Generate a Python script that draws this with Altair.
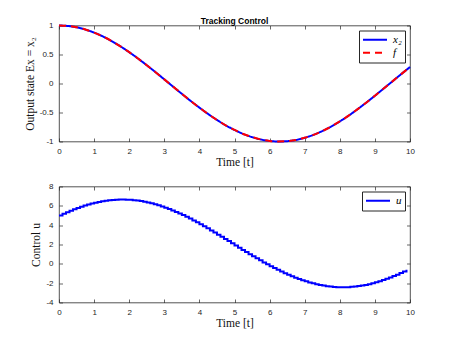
import altair as alt
import pandas as pd

# ---- data ----
t_top = [i * 0.25 for i in range(41)]
x2_vals = [1.000, 0.992, 0.969, 0.930, 0.878, 0.811, 0.732, 0.641, 0.540, 0.431,
           0.315, 0.195, 0.071, -0.054, -0.178, -0.300, -0.416, -0.526, -0.628, -0.721,
           -0.801, -0.870, -0.924, -0.965, -0.990, -1.000, -0.994, -0.973, -0.936, -0.885,
           -0.820, -0.743, -0.654, -0.555, -0.446, -0.331, -0.211, -0.087, 0.037, 0.162, 0.284]
f_vals = [1.000, 0.992, 0.969, 0.930, 0.878, 0.811, 0.732, 0.641, 0.540, 0.431,
          0.315, 0.195, 0.071, -0.054, -0.178, -0.300, -0.416, -0.526, -0.628, -0.721,
          -0.801, -0.870, -0.924, -0.965, -0.990, -1.000, -0.994, -0.973, -0.936, -0.885,
          -0.820, -0.743, -0.654, -0.555, -0.446, -0.331, -0.211, -0.087, 0.037, 0.162, 0.284]

t_u = [i / 10 for i in range(100)]
u_vals = [5.00, 5.17, 5.34, 5.49, 5.64, 5.78, 5.91, 6.03, 6.14, 6.24,
          6.33, 6.40, 6.47, 6.53, 6.58, 6.61, 6.64, 6.65, 6.65, 6.64,
          6.62, 6.59, 6.54, 6.49, 6.42, 6.35, 6.26, 6.16, 6.05, 5.94,
          5.81, 5.67, 5.53, 5.37, 5.21, 5.04, 4.87, 4.68, 4.49, 4.30,
          4.09, 3.89, 3.68, 3.46, 3.24, 3.02, 2.80, 2.58, 2.35, 2.12,
          1.90, 1.67, 1.44, 1.22, 1.00, 0.78, 0.57, 0.36, 0.15, -0.05,
          -0.25, -0.44, -0.62, -0.80, -0.97, -1.13, -1.29, -1.43, -1.57, -1.70,
          -1.81, -1.92, -2.02, -2.11, -2.19, -2.25, -2.31, -2.35, -2.39, -2.41,
          -2.42, -2.42, -2.41, -2.38, -2.35, -2.30, -2.25, -2.18, -2.10, -2.01,
          -1.91, -1.80, -1.68, -1.55, -1.42, -1.27, -1.12, -0.96, -0.79, -0.61]

x_ticks = [0, 1, 2, 3, 4, 5, 6, 7, 8, 9, 10]
y_ticks_top = [-1, -0.5, 0, 0.5, 1]
y_ticks_bot = [-4, -2, 0, 2, 4, 6, 8]
series_top = ["x₂", "f"]
series_bot = ["u"]

top_df = pd.DataFrame({
    "t": t_top + t_top,
    "v": x2_vals + f_vals,
    "s": [series_top[0]] * len(t_top) + [series_top[1]] * len(t_top),
})
bot_df = pd.DataFrame({"t": t_u, "v": u_vals, "s": [series_bot[0]] * len(t_u)})

AX = "#262626"
TICK = 3.5


def main_axis(orient, values, title, pad=6, tpad=4):
    return alt.Axis(orient=orient, values=values, title=title, offset=-TICK, tickSize=TICK,
                    tickColor=AX, tickWidth=0.7, domain=False, grid=False,
                    labelPadding=pad, labelExpr="datum.value + ''", labelFlush=False,
                    labelOverlap=False, labelFont="Liberation Sans", labelFontSize=8,
                    labelColor=AX, titleFont="Liberation Serif", titleFontSize=11.5,
                    titleFontWeight="normal", titleColor="#111111", titlePadding=tpad)


def tick_axis(orient, values):
    return alt.Axis(orient=orient, values=values, title=None, offset=-TICK, tickSize=TICK,
                    tickColor=AX, tickWidth=0.7, domain=False, grid=False, labels=False)


def legend():
    return alt.Legend(orient="top-right", offset=5, title=None, symbolType="stroke",
                      symbolSize=576, symbolStrokeWidth=2, labelFont="Liberation Serif",
                      labelFontStyle="italic", labelFontSize=11, labelColor="black",
                      strokeColor=AX, fillColor="white", padding=3, rowPadding=0,
                      clipHeight=12.5, labelOffset=5)


xs = alt.Scale(domain=[0, 10], nice=False, zero=False)
ys_top = alt.Scale(domain=[-1, 1], nice=False, zero=False)
ys_bot = alt.Scale(domain=[-4, 8], nice=False, zero=False)

color_top = alt.Color("s:N", scale=alt.Scale(domain=series_top, range=["#0000ff", "#ff0000"]),
                      legend=legend())
dash_top = alt.StrokeDash("s:N", scale=alt.Scale(domain=series_top, range=[[1, 0], [7, 5]]),
                          legend=legend())

top_x2 = alt.Chart(top_df).transform_filter(f"datum.s == '{series_top[0]}'").mark_line(
    strokeWidth=2, interpolate="monotone").encode(
    x=alt.X("t:Q", scale=xs, axis=main_axis("bottom", x_ticks, "Time [t]", tpad=1)),
    y=alt.Y("v:Q", scale=ys_top, axis=main_axis("left", y_ticks_top, "Output state Ex = x₂")),
    color=color_top, strokeDash=dash_top)

top_f = alt.Chart(top_df).transform_filter(f"datum.s == '{series_top[1]}'").mark_line(
    strokeWidth=2, interpolate="monotone").encode(
    x=alt.X("t:Q", scale=xs, axis=tick_axis("top", x_ticks)),
    y=alt.Y("v:Q", scale=ys_top, axis=tick_axis("right", y_ticks_top)),
    color=color_top, strokeDash=dash_top)

top = alt.layer(top_x2, top_f).resolve_axis(x="independent", y="independent").properties(
    width=351, height=116,
    title=alt.TitleParams("Tracking Control", font="Liberation Sans", fontSize=8.5,
                          fontWeight="bold", color="black", offset=-3.5, anchor="middle"))

color_bot = alt.Color("s:N", scale=alt.Scale(domain=series_bot, range=["#0000ff"]),
                      legend=legend())

bot_u = alt.Chart(bot_df).mark_line(strokeWidth=2, interpolate="step-after").encode(
    x=alt.X("t:Q", scale=xs, axis=main_axis("bottom", x_ticks, "Time [t]", tpad=1)),
    y=alt.Y("v:Q", scale=ys_bot, axis=main_axis("left", y_ticks_bot, "Control u")),
    color=color_bot)

bot_ticks = alt.Chart(bot_df).mark_line(opacity=0).encode(
    x=alt.X("t:Q", scale=xs, axis=tick_axis("top", x_ticks)),
    y=alt.Y("v:Q", scale=ys_bot, axis=tick_axis("right", y_ticks_bot)))

bottom = alt.layer(bot_u, bot_ticks).resolve_axis(x="independent", y="independent").properties(
    width=351, height=116)

chart = alt.vconcat(top, bottom, spacing=45, bounds="flush").resolve_scale(
    color="independent", strokeDash="independent").properties(
    padding={"left": 15, "top": 7.5, "right": 5, "bottom": 5}, background="white"
).configure_view(stroke=AX, strokeWidth=0.8)

chart.save("out.html", embed_options={"renderer": "svg", "actions": False})
